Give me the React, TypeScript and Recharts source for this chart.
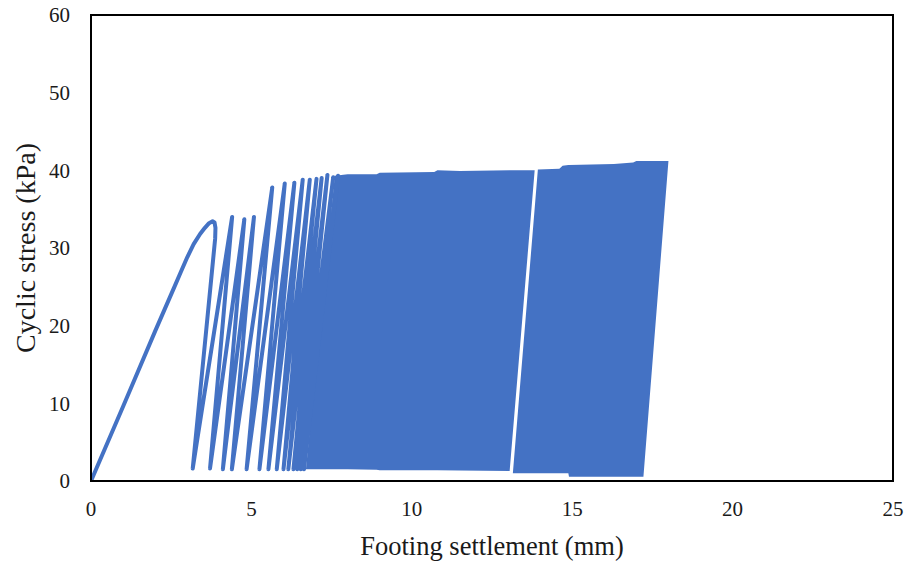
import React from 'react';
import { ComposedChart, Line, Area, XAxis, YAxis, ReferenceArea, Label } from 'recharts';

// first (monotonic) loading branch, up to the first peak and the start of unloading
const monoX = [0, 1.0, 2.0, 2.6, 2.8, 3.0, 3.2, 3.4, 3.55, 3.68, 3.79, 3.85, 3.88, 3.87];
const monoY = [0, 9.6, 19.3, 25.0, 26.9, 28.8, 30.5, 31.8, 32.6, 33.2, 33.45, 33.3, 32.6, 31.2];

// turning points of the individual (still separated) cycles
const bottomX = [3.17, 3.71, 4.11, 4.39, 4.85, 5.25, 5.53, 5.79, 6.0, 6.15, 6.31, 6.43, 6.54, 6.64];
const bottomY = [1.6, 1.6, 1.5, 1.5, 1.5, 1.5, 1.5, 1.5, 1.5, 1.5, 1.5, 1.5, 1.5, 1.5];
const peakX = [4.4, 4.78, 5.08, 5.65, 6.04, 6.34, 6.6, 6.82, 7.03, 7.19, 7.37, 7.55, 7.7];
const peakY = [34.0, 33.7, 34.0, 37.8, 38.3, 38.4, 38.8, 38.8, 38.9, 39.0, 39.4, 39.1, 39.3];

// dense cycles, drawn as two filled bands (split by the thin white gap near 13.5 mm)
const bandAX = [6.7, 7.6, 8.0, 8.9, 9.0, 10.7, 10.8, 11.5, 13.05, 13.83];
const bandALow = [1.5, 1.5, 1.5, 1.45, 1.4, 1.4, 1.4, 1.35, 1.3, 40.0];
const bandAHigh = [1.5, 39.3, 39.5, 39.5, 39.7, 39.8, 40.0, 39.9, 40.0, 40.0];

const bandBX = [13.15, 13.93, 14.6, 14.7, 14.88, 14.9, 16.3, 16.9, 17.0, 17.22, 18.0];
const bandBLow = [1.0, 1.0, 1.0, 1.0, 1.0, 0.55, 0.55, 0.55, 0.55, 0.55, 41.2];
const bandBHigh = [1.0, 40.1, 40.2, 40.6, 40.7, 40.7, 40.8, 41.0, 41.2, 41.2, 41.2];

const xTicks = [0, 5, 10, 15, 20, 25];
const yTicks = [0, 10, 20, 30, 40, 50, 60];

const blue = '#4472C4';
const font = '"Liberation Serif", "Times New Roman", serif';

const curve: { x: number; y: number }[] = monoX.map((x, i) => ({ x, y: monoY[i] }));
bottomX.forEach((bx, i) => {
  curve.push({ x: bx, y: bottomY[i] });
  if (i < peakX.length) curve.push({ x: peakX[i], y: peakY[i] });
});

const bandA = bandAX.map((x, i) => ({ x, band: [bandALow[i], bandAHigh[i]] }));
const bandB = bandBX.map((x, i) => ({ x, band: [bandBLow[i], bandBHigh[i]] }));

const tickStyle = { fontFamily: font, fontSize: 21, fill: '#1a1a1a' };

export default function App() {
  return (
    <div style={{ position: 'absolute', left: 0, top: 0, background: '#fff' }}>
      <ComposedChart width={909} height={567} margin={{ top: 15, right: 16, left: 11, bottom: 0 }}>
        <XAxis
          type="number"
          dataKey="x"
          domain={[0, 25]}
          ticks={xTicks}
          allowDataOverflow
          tickLine={false}
          axisLine={{ stroke: '#000', strokeWidth: 2 }}
          tick={tickStyle}
          tickMargin={14}
          height={86}
        >
          <Label
            value="Footing settlement (mm)"
            position="insideBottom"
            offset={12}
            style={{ fontFamily: font, fontSize: 26.5, fill: '#1a1a1a' }}
          />
        </XAxis>
        <YAxis
          type="number"
          domain={[0, 60]}
          ticks={yTicks}
          allowDataOverflow
          tickLine={false}
          axisLine={{ stroke: '#000', strokeWidth: 2 }}
          tick={tickStyle}
          tickMargin={15}
          width={80}
        >
          <Label
            value="Cyclic stress (kPa)"
            angle={-90}
            position="insideLeft"
            offset={14}
            style={{ fontFamily: font, fontSize: 28, fill: '#1a1a1a', textAnchor: 'middle' }}
          />
        </YAxis>
        <Area
          data={bandA}
          dataKey="band"
          type="linear"
          stroke="none"
          fill={blue}
          fillOpacity={1}
          isAnimationActive={false}
        />
        <Area
          data={bandB}
          dataKey="band"
          type="linear"
          stroke="none"
          fill={blue}
          fillOpacity={1}
          isAnimationActive={false}
        />
        <Line
          data={curve}
          dataKey="y"
          type="linear"
          stroke={blue}
          strokeWidth={4}
          strokeLinejoin="round"
          strokeLinecap="round"
          dot={false}
          isAnimationActive={false}
        />
        <ReferenceArea x1={0} x2={25} y1={0} y2={60} fill="none" stroke="#000" strokeWidth={2} ifOverflow="visible" />
      </ComposedChart>
    </div>
  );
}
